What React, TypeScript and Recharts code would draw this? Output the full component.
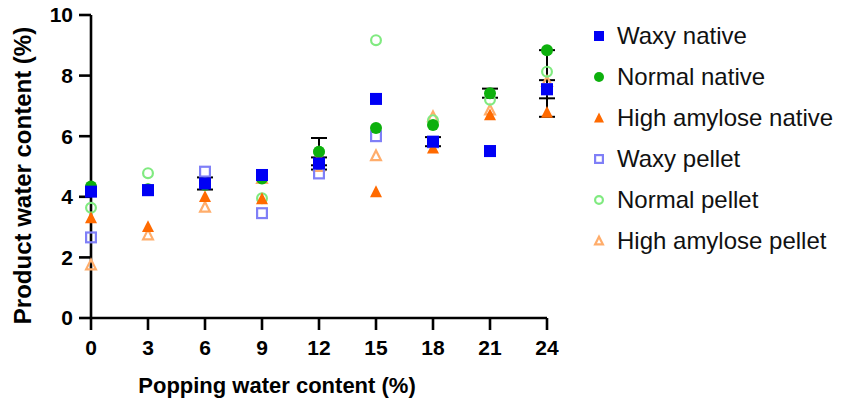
import React from 'react';
import { ScatterChart, Scatter, XAxis, YAxis, ErrorBar, Label } from 'recharts';

const popping = [0, 3, 6, 9, 12, 15, 18, 21, 24];
const xTicks = [0, 3, 6, 9, 12, 15, 18, 21, 24];
const yTicks = [0, 2, 4, 6, 8, 10];

const waxyNative = [4.17, 4.22, 4.44, 4.72, 5.1, 7.23, 5.82, 5.51, 7.55];
const normalNative = [4.34, 4.25, 4.4, 4.6, 5.49, 6.27, 6.37, 7.42, 8.84];
const haNative = [3.3, 3.01, 4.0, 3.93, 5.3, 4.16, 5.6, 6.7, 6.78];
const waxyPellet = [2.66, 4.22, 4.83, 3.46, 4.77, 6.0, 5.8, 5.51, 7.55];
const normalPellet = [3.64, 4.78, 4.45, 3.95, 5.49, 9.17, 6.53, 7.2, 8.13];
const haPellet = [1.75, 2.74, 3.65, 4.6, 5.0, 5.35, 6.64, 6.86, 7.8];

const waxyNativeErr = [0, 0, 0.2, 0, 0.2, 0, 0.15, 0, 0.3];
const normalNativeErr: (number | number[])[] = [0, 0, 0, 0, 0.45, 0, 0, 0.15, [2.2, 0]];

type Kind = 'square' | 'circle' | 'triangle';

interface SeriesDef {
  name: string;
  values: number[];
  errors?: (number | number[])[];
  color: string;
  kind: Kind;
  filled: boolean;
}

// drawn in this order, natives on top
const series: SeriesDef[] = [
  { name: 'High amylose pellet', values: haPellet, color: '#ffad6b', kind: 'triangle', filled: false },
  { name: 'Normal pellet', values: normalPellet, color: '#80ea80', kind: 'circle', filled: false },
  { name: 'Waxy pellet', values: waxyPellet, color: '#7f7ff7', kind: 'square', filled: false },
  { name: 'High amylose native', values: haNative, color: '#ff6a00', kind: 'triangle', filled: true },
  { name: 'Normal native', values: normalNative, errors: normalNativeErr, color: '#0db00d', kind: 'circle', filled: true },
  { name: 'Waxy native', values: waxyNative, errors: waxyNativeErr, color: '#0000f5', kind: 'square', filled: true },
];

const legendOrder = ['Waxy native', 'Normal native', 'High amylose native', 'Waxy pellet', 'Normal pellet', 'High amylose pellet'];

function Marker({ cx, cy, kind, color, filled, r }: { cx: number; cy: number; kind: Kind; color: string; filled: boolean; r: number }) {
  const sw = filled ? 0 : 2.2;
  const rr = filled ? r : r - 1.1;
  const fill = filled ? color : 'none';
  if (kind === 'square') {
    return <rect x={cx - rr} y={cy - rr} width={rr * 2} height={rr * 2} fill={fill} stroke={color} strokeWidth={sw} />;
  }
  if (kind === 'circle') {
    return <circle cx={cx} cy={cy} r={rr} fill={fill} stroke={color} strokeWidth={sw} />;
  }
  const h = rr * 1.1;
  const pts = `${cx},${cy - h} ${cx + rr},${cy + h * 0.8} ${cx - rr},${cy + h * 0.8}`;
  return <polygon points={pts} fill={fill} stroke={color} strokeWidth={sw} strokeLinejoin="miter" />;
}

const font = 'Arial, "Liberation Sans", sans-serif';

export default function App() {
  return (
    <div style={{ position: 'absolute', left: 0, top: 0, width: 852, height: 401, background: '#fff', fontFamily: font }}>
      <ScatterChart width={852} height={401} margin={{ top: 15, right: 305, bottom: 0, left: 0 }}>
        <XAxis
          type="number"
          dataKey="x"
          domain={[0, 24]}
          ticks={xTicks}
          interval={0}
          height={83}
          tickSize={12}
          tickMargin={10}
          axisLine={{ stroke: '#000', strokeWidth: 2.6 }}
          tickLine={{ stroke: '#000', strokeWidth: 2.6 }}
          tick={{ fill: '#000', fontSize: 21, fontWeight: 700, fontFamily: font }}
        >
          <Label value="Popping water content (%)" position="insideBottom" offset={8} dx={-42} fill="#000" fontSize={22} fontWeight={700} fontFamily={font} />
        </XAxis>
        <YAxis
          type="number"
          dataKey="y"
          domain={[0, 10]}
          ticks={yTicks}
          interval={0}
          width={91}
          tickSize={12}
          tickMargin={6}
          axisLine={{ stroke: '#000', strokeWidth: 2.6 }}
          tickLine={{ stroke: '#000', strokeWidth: 2.6 }}
          tick={{ fill: '#000', fontSize: 21, fontWeight: 700, fontFamily: font }}
        >
          <Label value="Product water content (%)" angle={-90} position="insideLeft" offset={22} dy={9} fill="#000" fontSize={24} fontWeight={700} fontFamily={font} style={{ textAnchor: 'middle' }} />
        </YAxis>
        {series.map((s) => {
          const data = popping.map((x, i) => ({ x, y: s.values[i], err: s.errors ? s.errors[i] : 0 }));
          return (
            <Scatter
              key={s.name}
              name={s.name}
              data={data}
              isAnimationActive={false}
              shape={(p: any) => <Marker cx={p.cx} cy={p.cy} kind={s.kind} color={s.color} filled={s.filled} r={6} />}
            >
              {s.errors && <ErrorBar dataKey="err" direction="y" width={8} stroke="#000" strokeWidth={2} />}
            </Scatter>
          );
        })}
      </ScatterChart>
      <div style={{ position: 'absolute', left: 590, top: 15 }}>
        {legendOrder.map((name) => {
          const s = series.find((d) => d.name === name)!;
          return (
            <div key={name} style={{ display: 'flex', alignItems: 'center', height: 41, fontSize: 24, color: '#111' }}>
              <svg width={20} height={20} style={{ marginRight: 7 }}>
                <Marker cx={9} cy={10} kind={s.kind} color={s.color} filled={s.filled} r={5} />
              </svg>
              <span>{name}</span>
            </div>
          );
        })}
      </div>
    </div>
  );
}
